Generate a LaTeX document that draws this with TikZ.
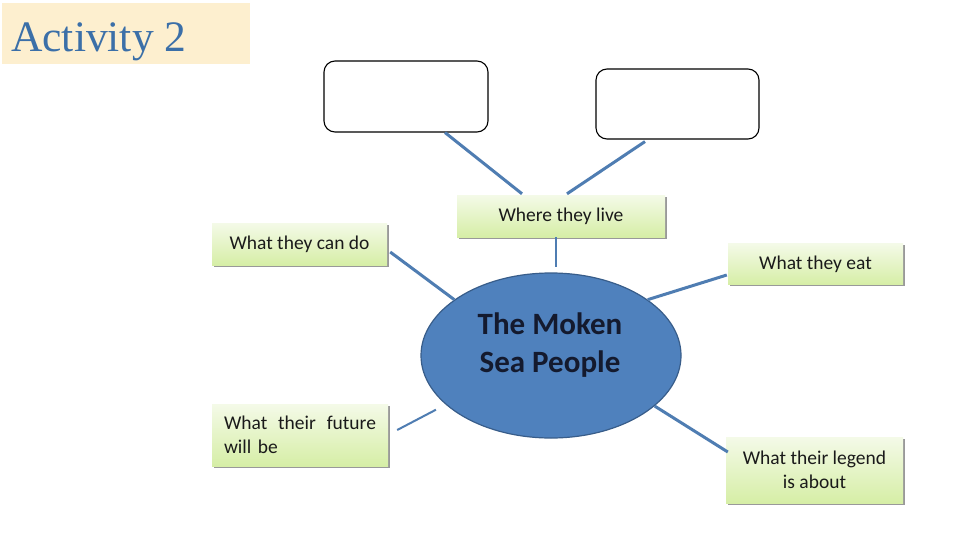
\documentclass[tikz,border=0pt]{standalone}
\usepackage{fontspec}
\setmainfont{Carlito}
\newfontfamily\timesf{Liberation Serif}
\usetikzlibrary{calc,shapes.geometric,shadows}
\definecolor{cream}{HTML}{FDEFCF}
\definecolor{titleblue}{HTML}{3B6FA8}
\definecolor{linkblue}{HTML}{4F7DB2}
\definecolor{ellfill}{HTML}{4F81BD}
\definecolor{elldraw}{HTML}{385D8A}
\definecolor{gtop}{HTML}{F4FAE8}
\definecolor{gbot}{HTML}{D6EEA6}
\definecolor{txt}{HTML}{1A1A1A}
\definecolor{navy}{HTML}{141A2E}
\tikzset{
  topicbox/.style={rectangle, top color=gtop, bottom color=gbot, draw=none,
    drop shadow={shadow xshift=1.5pt, shadow yshift=-1.8pt, fill=black!40, opacity=1},
    font=\fontsize{19.5}{24.5}\selectfont, text=txt, inner sep=0pt},
  emptybox/.style={rectangle, rounded corners=11pt, draw=black, line width=1.1pt, fill=white},
  link/.style={draw=linkblue, line width=3pt},
  thinlink/.style={draw=linkblue, line width=1.6pt}
}
\begin{document}
\begin{tikzpicture}[x=1pt,y=-1pt]
\useasboundingbox (0,0) rectangle (960,540);
\fill[white] (0,0) rectangle (960,540);
% title
\node[fill=cream, minimum width=248pt, minimum height=61pt, inner sep=0pt, anchor=north west] (titlebox) at (2,3) {};
\node[font=\timesf\fontsize{43.5}{46}\selectfont, text=titleblue, anchor=base west, inner sep=0pt] (title) at (11,52) {Activity 2};
% empty boxes
\node[emptybox, minimum width=164pt, minimum height=71pt] (box1) at (406,96.5) {};
\node[emptybox, minimum width=163pt, minimum height=70pt] (box2) at (677.5,104) {};
% topic boxes
\node[topicbox, minimum width=208pt, minimum height=42pt] (where) at (561,216) {Where they live};
\node[topicbox, minimum width=175pt, minimum height=42pt] (cando) at (299.5,244) {What they can do};
\node[topicbox, minimum width=175pt, minimum height=41pt] (eat) at (815.5,264) {What they eat};
\node[topicbox, minimum width=176pt, minimum height=62pt, text width=152pt, align=left] (future) at (300,435) {What\hfill their\hfill future\\will be};
\node[topicbox, minimum width=177pt, minimum height=66pt, align=center] (legend) at (814.5,470) {What their legend\\is about};
% central ellipse
\node[ellipse, fill=ellfill, draw=elldraw, line width=1.2pt, minimum width=260pt, minimum height=165pt, inner sep=0pt] (moken) at (551,355.5) {};
\node[font=\bfseries\fontsize{31}{38}\selectfont, text=navy, align=center, inner sep=0pt] (mokentext) at (550,345) {The Moken\\Sea People};
% connectors
\draw[link] ($(box1.south)+(39,0)$) -- ($(where.north)+(-39,-1)$);
\draw[link] ($(box2.south)+(-32.5,2)$) -- ($(where.north)+(6,-1)$);
\draw[thinlink, line width=1.3pt] ($(where.south)+(-5,0)$) -- ($(moken.north)+(5,-5)$);
\draw[link] ($(cando.east)+(3,8)$) -- (moken.150);
\draw[link] ($(eat.west)+(-1,11)$) -- (moken.30);
\draw[link] ($(legend.west)+(2,-18)$) -- (moken.-26);
\draw[thinlink, line width=2pt, shorten >=11pt] ($(future.east)+(9,-5)$) -- (moken.-155);
\end{tikzpicture}
\end{document}
